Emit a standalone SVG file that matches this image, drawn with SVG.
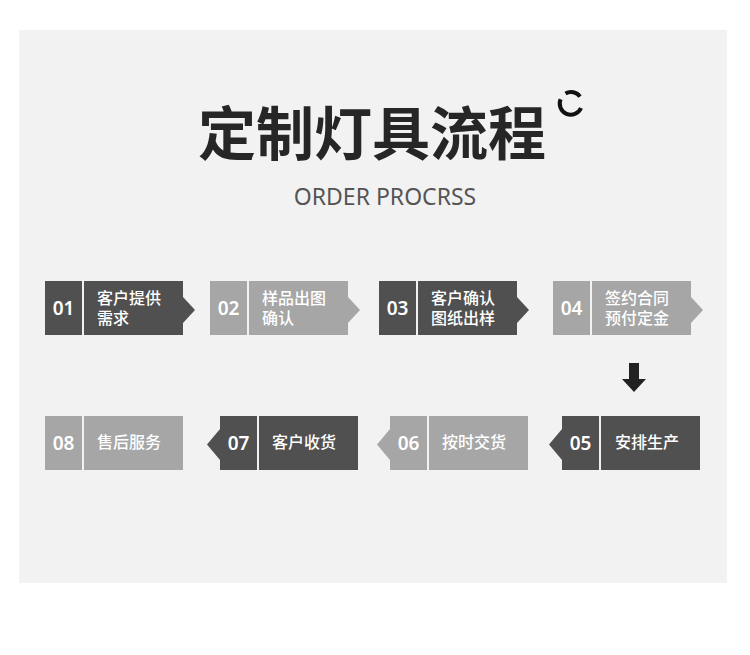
<svg xmlns="http://www.w3.org/2000/svg" width="750" height="655" viewBox="0 0 750 655">
<defs>
<style>
.dark{fill:#505050}
.light{fill:#a6a6a6}
.num{font-family:"Noto Sans","Open Sans",sans-serif;font-weight:600;font-size:19px;fill:#ffffff;text-anchor:middle}
.lbl{font-family:"Noto Sans CJK SC","Noto Sans",sans-serif;font-weight:500;font-size:16px;fill:#ffffff}
</style>
</defs>
<rect x="0" y="0" width="750" height="655" fill="#ffffff"/>
<rect x="19" y="30" width="708" height="553" fill="#f2f2f2"/>
<g id="title">
<text x="372" y="155" text-anchor="middle" font-family="'Noto Sans CJK SC','Noto Sans',sans-serif" font-weight="700" font-size="58" fill="#262626">定制灯具流程</text>
<path d="M565.5 93.5 A11 11 0 0 1 580 96.7 M581 108 A11 11 0 0 1 560.6 99.3" fill="none" stroke="#111111" stroke-width="4"/>
</g>
<text id="subtitle" x="385" y="205" text-anchor="middle" font-family="'Noto Sans','Open Sans',sans-serif" font-size="23" fill="#555555">ORDER PROCRSS</text>
<g id="n01">
<rect class="dark" x="45" y="281" width="37" height="54"/>
<rect class="dark" x="84" y="281" width="99" height="54"/>
<polygon class="dark" points="183,297 195,310 183,323"/>
<text class="num" x="63.5" y="315">01</text>
<text class="lbl" x="97" y="304">客户提供</text>
<text class="lbl" x="97" y="324">需求</text>
</g>
<g id="n02">
<rect class="light" x="210" y="281" width="37" height="54"/>
<rect class="light" x="249" y="281" width="99" height="54"/>
<polygon class="light" points="348,297 360,310 348,323"/>
<text class="num" x="228.5" y="315">02</text>
<text class="lbl" x="262" y="304">样品出图</text>
<text class="lbl" x="262" y="324">确认</text>
</g>
<g id="n03">
<rect class="dark" x="379" y="281" width="37" height="54"/>
<rect class="dark" x="418" y="281" width="99" height="54"/>
<polygon class="dark" points="517,297 529,310 517,323"/>
<text class="num" x="397.5" y="315">03</text>
<text class="lbl" x="431" y="304">客户确认</text>
<text class="lbl" x="431" y="324">图纸出样</text>
</g>
<g id="n04">
<rect class="light" x="553" y="281" width="37" height="54"/>
<rect class="light" x="592" y="281" width="99" height="54"/>
<polygon class="light" points="691,297 703,310 691,323"/>
<text class="num" x="571.5" y="315">04</text>
<text class="lbl" x="605" y="304">签约合同</text>
<text class="lbl" x="605" y="324">预付定金</text>
</g>
<g id="n05">
<polygon class="dark" points="562,429 549,444.5 562,460"/>
<rect class="dark" x="562" y="416" width="37" height="54"/>
<rect class="dark" x="601" y="416" width="99" height="54"/>
<text class="num" x="580.5" y="450">05</text>
<text class="lbl" x="615" y="448">安排生产</text>
</g>
<g id="n06">
<polygon class="light" points="390,429 377,444.5 390,460"/>
<rect class="light" x="390" y="416" width="37" height="54"/>
<rect class="light" x="429" y="416" width="99" height="54"/>
<text class="num" x="408.5" y="450">06</text>
<text class="lbl" x="442" y="448">按时交货</text>
</g>
<g id="n07">
<polygon class="dark" points="220,429 207,444.5 220,460"/>
<rect class="dark" x="220" y="416" width="37" height="54"/>
<rect class="dark" x="259" y="416" width="99" height="54"/>
<text class="num" x="238.5" y="450">07</text>
<text class="lbl" x="272" y="448">客户收货</text>
</g>
<g id="n08">
<rect class="light" x="45" y="416" width="37" height="54"/>
<rect class="light" x="84" y="416" width="99" height="54"/>
<text class="num" x="63.5" y="450">08</text>
<text class="lbl" x="97" y="448">售后服务</text>
</g>
<g id="connectors">
<polygon points="629,363 639,363 639,379 646,379 634,392 622,379 629,379" fill="#222222"/>
</g>
</svg>
